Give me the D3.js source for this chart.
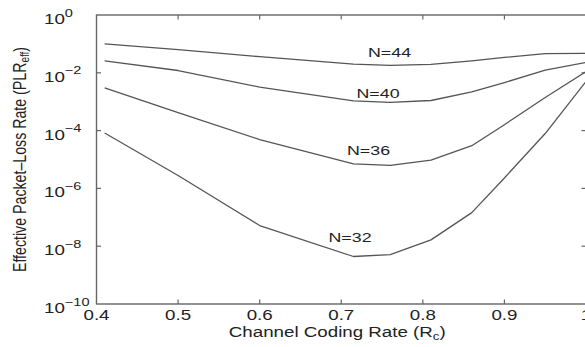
<!DOCTYPE html>
<html>
<head>
<meta charset="utf-8">
<script src="https://cdn.jsdelivr.net/npm/d3@7"></script>
<style>
  html, body { margin: 0; padding: 0; background: #fff; }
  svg { display: block; }
  text { font-family: "Liberation Sans", Arial, Helvetica, sans-serif; fill: #222; }
</style>
</head>
<body>
<svg id="chart" width="585" height="347"></svg>
<script>
// Channel coding rate (x) and effective packet-loss rate for each packet size N
const rates = [0.41, 0.5, 0.6, 0.715, 0.76, 0.81, 0.86, 0.9, 0.95, 1.0];
const plrN44 = [1.0e-1, 6.3e-2, 3.6e-2, 2.0e-2, 1.8e-2, 1.95e-2, 2.6e-2, 3.4e-2, 4.6e-2, 4.7e-2];
const plrN40 = [2.6e-2, 1.2e-2, 3.2e-3, 1.07e-3, 9.5e-4, 1.1e-3, 2.2e-3, 4.6e-3, 1.23e-2, 2.3e-2];
const plrN36 = [3.0e-3, 4.2e-4, 4.9e-5, 7.1e-6, 6.3e-6, 9.5e-6, 3.0e-5, 1.6e-4, 1.4e-3, 1.1e-2];
const plrN32 = [8.3e-5, 2.8e-6, 5.2e-8, 4.4e-9, 5.1e-9, 1.66e-8, 1.45e-7, 2.3e-6, 7.9e-5, 5.0e-3];
const seriesNames = ["N=44", "N=40", "N=36", "N=32"];
const seriesValues = [plrN44, plrN40, plrN36, plrN32];

const xTicks = [0.4, 0.5, 0.6, 0.7, 0.8, 0.9, 1.0];
const xTickLabels = ["0.4", "0.5", "0.6", "0.7", "0.8", "0.9", "1"];
const yTicks = [1, 1e-2, 1e-4, 1e-6, 1e-8, 1e-10];
const yTickExponents = ["0", "\u22122", "\u22124", "\u22126", "\u22128", "\u221210"];

const STRETCH = 1.32;   // horizontally widened lettering
const svg = d3.select("#chart");

const x = d3.scaleLinear().domain([0.4, 1.0]).range([96.5, 586]);
const y = d3.scaleLog().domain([1e-10, 1]).range([304, 15]);

const axisColor = "#666";
const lineColor = "#555";

// helper: text placed at (px, py) and stretched horizontally around that point
function stretchedText(g, px, py, str, size, anchor) {
  return g.append("text")
    .attr("transform", `translate(${px},${py}) scale(${STRETCH},1)`)
    .attr("font-size", size)
    .attr("text-anchor", anchor || "start")
    .text(str);
}

// plot frame
svg.append("rect")
  .attr("x", x(0.4)).attr("y", y(1))
  .attr("width", x(1.0) - x(0.4)).attr("height", y(1e-10) - y(1))
  .attr("fill", "none").attr("stroke", axisColor).attr("stroke-width", 1.4);

// inward tick marks on all four sides
const tickLen = 4.5;
const ticks = svg.append("g").attr("stroke", axisColor).attr("stroke-width", 1.2);
xTicks.slice(1, -1).forEach(v => {
  ticks.append("line").attr("x1", x(v)).attr("x2", x(v)).attr("y1", y(1e-10)).attr("y2", y(1e-10) - tickLen);
  ticks.append("line").attr("x1", x(v)).attr("x2", x(v)).attr("y1", y(1)).attr("y2", y(1) + tickLen);
});
yTicks.slice(1, -1).forEach(v => {
  ticks.append("line").attr("x1", x(0.4)).attr("x2", x(0.4) + tickLen).attr("y1", y(v)).attr("y2", y(v));
  ticks.append("line").attr("x1", x(1.0)).attr("x2", x(1.0) - tickLen).attr("y1", y(v)).attr("y2", y(v));
});

// x tick labels
const xl = svg.append("g");
xTicks.forEach((v, i) => stretchedText(xl, x(v), 320, xTickLabels[i], 14.2, "middle"));

// y tick labels: 10 with a raised exponent
const yl = svg.append("g");
yTicks.forEach((v, i) => {
  const t = yl.append("text")
    .attr("transform", `translate(44,${y(v) + 9}) scale(${STRETCH},1)`)
    .attr("font-size", 14.2);
  t.append("tspan").text("10");
  t.append("tspan").attr("font-size", 11).attr("dy", -7.5).text(yTickExponents[i]);
});

// curves
const line = d3.line().x(d => x(d[0])).y(d => y(d[1]));
seriesValues.forEach(vals => {
  svg.append("path")
    .datum(rates.map((r, i) => [r, vals[i]]))
    .attr("d", line)
    .attr("fill", "none")
    .attr("stroke", lineColor)
    .attr("stroke-width", 1.3)
    .attr("stroke-linejoin", "round");
});

// curve labels
const labelBaselines = [57, 98, 155, 242];
const labelXs = [368, 356.5, 347, 328.5];
const cl = svg.append("g");
seriesNames.forEach((n, i) => stretchedText(cl, labelXs[i], labelBaselines[i], n, 13.5, "start"));

// axis titles
const xt = svg.append("text")
  .attr("transform", `translate(${(x(0.4) + x(1.0)) / 2 - 4},336.5) scale(${STRETCH},1)`)
  .attr("font-size", 14.2).attr("text-anchor", "middle");
xt.append("tspan").text("Channel Coding Rate (R");
xt.append("tspan").attr("font-size", 10).attr("dy", 3).text("c");
xt.append("tspan").attr("dy", -3).text(")");

const yt = svg.append("text")
  .attr("transform", `translate(25.5,${(y(1) + y(1e-10)) / 2}) scale(${STRETCH},1) rotate(-90)`)
  .attr("font-size", 14.2).attr("text-anchor", "middle");
yt.append("tspan").text("Effective Packet\u2013Loss Rate (PLR");
yt.append("tspan").attr("font-size", 10).attr("dy", 3).text("eff");
yt.append("tspan").attr("dy", -3).text(")");
</script>
</body>
</html>
